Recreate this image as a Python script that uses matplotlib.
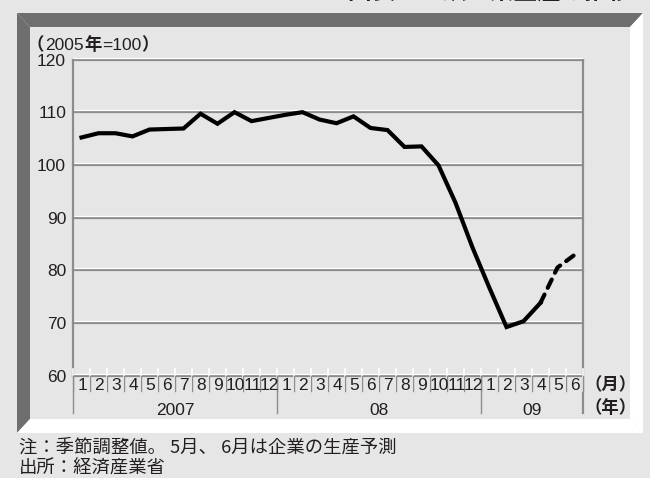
import matplotlib
matplotlib.use("Agg")
import matplotlib.pyplot as plt
from matplotlib.patches import Polygon
from matplotlib.transforms import blended_transform_factory, offset_copy

# ---- data ----
months = [str(m) for m in range(1, 13)] + [str(m) for m in range(1, 13)] + [str(m) for m in range(1, 7)]
years = ["2007", "08", "09"]
year_months = [12, 12, 6]
actual = [105.2, 106.0, 106.0, 105.4, 106.7, 106.8, 106.9, 109.7, 107.8, 110.0, 108.3, 108.9,
          109.5, 110.0, 108.6, 107.9, 109.2, 107.0, 106.6, 103.4, 103.5, 99.9, 92.8, 84.3,
          76.6, 69.2, 70.3, 73.8]
forecast_months = [27, 28, 29]   # index of Apr-Jun 2009
forecast = [73.8, 80.5, 82.9]
yticks = [60, 70, 80, 90, 100, 110, 120]

W, H = 650, 478
fig = plt.figure(figsize=(W / 100, H / 100), dpi=100)
fig.patch.set_facecolor("#e6e6e6")

def fx(x):
    return x / W

def fy(y):
    return 1 - y / H

def poly(pts, color):
    fig.add_artist(Polygon([(fx(x), fy(y)) for x, y in pts], closed=True,
                           facecolor=color, edgecolor="none", transform=fig.transFigure, zorder=0))

# frame
poly([(17, 13), (643, 13), (630, 27), (30, 27)], "#6e6e6e")
poly([(17, 13), (30, 27), (30, 419), (17, 433)], "#6e6e6e")
poly([(643, 13), (643, 433), (630, 419), (630, 27)], "#ffffff")
poly([(17, 433), (643, 433), (630, 419), (30, 419)], "#ffffff")

TXT = "#231f20"
GRID = "#8c8c8c"
LAT = ["Liberation Sans Narrow", "Liberation Sans", "Noto Sans CJK JP"]
JP = ["Noto Sans CJK JP", "DejaVu Sans"]

x0, x1, ytop, ybot = 73, 583, 59.5, 375.5
ax = fig.add_axes([fx(x0), fy(ybot), (x1 - x0) / W, (ybot - ytop) / H])
ax.set_facecolor("none")
n = len(months)
ax.set_xlim(0, n)
ax.set_ylim(60, 120)
for s in ax.spines.values():
    s.set_visible(False)
ax.set_xticks([])
ax.set_yticks(yticks)
ax.set_yticklabels([str(v) for v in yticks], fontsize=12.5, color=TXT, family=LAT)
ax.tick_params(axis="y", length=0, pad=5)

# embossed grid lines
white_tr = offset_copy(ax.transData, fig=fig, x=0, y=1.2, units="points")
for v in yticks:
    ax.axhline(v, color=GRID, lw=1.6, zorder=1, clip_on=False)
    ax.plot([0, n], [v, v], color="white", lw=0.9, transform=white_tr, zorder=1.1, clip_on=False)

bt = blended_transform_factory(ax.transData, ax.transAxes)
# left / right axis lines
ax.plot([0, 0], [1, -0.005], color=GRID, lw=1.6, transform=bt, clip_on=False, zorder=2)
ax.plot([n, n], [1, -0.12], color=GRID, lw=1.6, transform=bt, clip_on=False, zorder=2)

# month ticks and separators
for i in range(0, n + 1):
    ax.plot([i, i], [0.022, -0.05], color="white", lw=1.2, transform=bt, clip_on=False, zorder=2)
    ax.plot([i, i], [0.0, -0.05], color=GRID, lw=1.0, transform=bt, clip_on=False, zorder=2.1)
start = 0
for k, cnt in enumerate(year_months):
    ax.plot([start, start], [0, -0.12], color=GRID, lw=1.0, transform=bt, clip_on=False, zorder=2)
    ax.text(start + cnt / 2, -0.11, years[k], transform=bt, ha="center", va="center",
            fontsize=12.5, color=TXT, family=LAT)
    start += cnt
for i, m in enumerate(months):
    ax.text(i + 0.55, -0.033, m, transform=bt, ha="center", va="center",
            fontsize=12.5, color=TXT, family=LAT)

# data line
xs = [i + 0.5 for i in range(len(actual))]
ax.plot(xs, actual, color="black", lw=3.0, solid_joinstyle="miter", zorder=5, clip_on=False)
ax.plot([i + 0.5 for i in forecast_months], forecast, color="black", lw=3.0,
        dashes=(2.2, 1.8), dash_capstyle="round", zorder=5, clip_on=False)

# header "(2005年=100)" built from pieces placed one after another
renderer = fig.canvas.get_renderer()
pieces = [("（", JP, "bold"), ("2005", LAT, "normal"), ("年", JP, "bold"),
          ("=100", LAT, "normal"), ("）", JP, "bold")]
xpos = 27
for s, fam, wt in pieces:
    t = fig.text(fx(xpos), fy(45), s, fontsize=12.5, color=TXT, family=fam, weight=wt,
                 va="center", ha="left")
    bb = t.get_window_extent(renderer=renderer)
    xpos += bb.width + 0.5

fig.text(fx(584), fy(385), "（月）", fontsize=12.5, color=TXT, family=JP, va="center", ha="left", weight="bold")
fig.text(fx(584), fy(408), "（年）", fontsize=12.5, color=TXT, family=JP, va="center", ha="left", weight="bold")

fig.text(fx(19), fy(448), "注：季節調整値。 5月、 6月は企業の生産予測", fontsize=13.2, color=TXT, family=JP,
         va="center", ha="left")
fig.text(fx(19), fy(469), "出所：経済産業省", fontsize=13.2, color=TXT, family=JP,
         va="center", ha="left")
# title, cut off at the top edge
fig.text(fx(632), fy(4), "図表　　鉱工業生産の推移", fontsize=17, color=TXT, family=JP,
         va="bottom", ha="right", weight="bold")

fig.savefig("out.png", dpi=100, facecolor=fig.get_facecolor())
